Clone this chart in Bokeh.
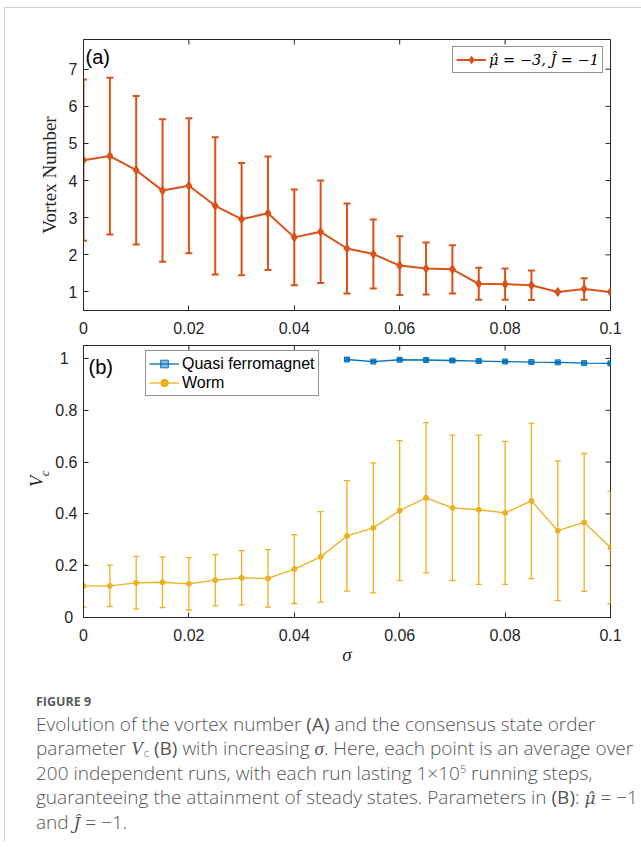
import math
from bokeh.plotting import figure
from bokeh.models import (ColumnDataSource, Whisker, TeeHead, Legend, LegendItem, Label,
                          LinearAxis, FixedTicker, Range1d, Div)
from bokeh.layouts import column
from bokeh.embed import file_html
from bokeh.resources import INLINE

# ---------------- data ----------------
sigma = [0.0, 0.005, 0.01, 0.015, 0.02, 0.025, 0.03, 0.035, 0.04, 0.045, 0.05,
         0.055, 0.06, 0.065, 0.07, 0.075, 0.08, 0.085, 0.09, 0.095, 0.1]

vortex_mean = [4.55, 4.66, 4.28, 3.73, 3.86, 3.32, 2.96, 3.12, 2.47, 2.62, 2.17,
               2.02, 1.71, 1.63, 1.61, 1.22, 1.21, 1.18, 1.00, 1.08, 1.00]
vortex_err = [2.17, 2.11, 2.00, 1.92, 1.82, 1.85, 1.51, 1.53, 1.29, 1.38, 1.21,
              0.93, 0.79, 0.70, 0.65, 0.43, 0.42, 0.40, 0.0, 0.29, 0.0]

worm_mean = [0.122, 0.122, 0.134, 0.136, 0.130, 0.144, 0.153, 0.151, 0.187, 0.234, 0.315,
             0.346, 0.413, 0.462, 0.423, 0.416, 0.404, 0.450, 0.335, 0.367, 0.270]
worm_err = [0.082, 0.080, 0.102, 0.098, 0.101, 0.099, 0.105, 0.111, 0.133, 0.175, 0.213,
            0.251, 0.270, 0.290, 0.281, 0.288, 0.276, 0.300, 0.270, 0.266, 0.217]

quasi_sigma = [0.05, 0.055, 0.06, 0.065, 0.07, 0.075, 0.08, 0.085, 0.09, 0.095, 0.1]
quasi_mean = [0.996, 0.988, 0.995, 0.994, 0.992, 0.990, 0.988, 0.986, 0.985, 0.982, 0.981]
quasi_err = [0.004, 0.004, 0.004, 0.004, 0.004, 0.004, 0.004, 0.004, 0.004, 0.004, 0.004]

x_ticks = [0, 0.02, 0.04, 0.06, 0.08, 0.1]
x_tick_labels = ["0", "0.02", "0.04", "0.06", "0.08", "0.1"]
v_ticks = [1, 2, 3, 4, 5, 6, 7]
vc_ticks = [0, 0.2, 0.4, 0.6, 0.8, 1.0]
# short labels are centred under the wider ones, as in the original
vc_tick_labels = ["0\u00a0", "0.2", "0.4", "0.6", "0.8", "1\u00a0\u00a0"]

ORANGE = "#D95319"
BLUE = "#0072BD"
YELLOW = "#EDB120"
AX = "#262626"
TICK_FONT = "Liberation Sans"
SERIF = "Liberation Serif"
MATH = "DejaVu Serif"


def style_axes(p, xt, xl, yt, yl):
    p.grid.visible = False
    p.outline_line_color = AX
    p.outline_line_width = 1
    p.outline_line_alpha = 1
    p.xaxis.ticker = FixedTicker(ticks=xt)
    p.xaxis.major_label_overrides = dict(zip(xt, xl))
    p.yaxis.ticker = FixedTicker(ticks=yt)
    if yl is not None:
        p.yaxis.major_label_overrides = dict(zip(yt, yl))
    for ax in p.xaxis + p.yaxis:
        ax.axis_line_color = AX
        ax.major_tick_line_color = AX
        ax.major_tick_in = 5
        ax.major_tick_out = 0
        ax.minor_tick_line_color = None
        ax.major_label_text_font = TICK_FONT
        ax.major_label_text_font_size = "16px"
        ax.major_label_text_color = AX
    p.xaxis.major_label_standoff = 11
    p.yaxis.major_label_standoff = 6
    # mirrored inward ticks on the right and top edges of the box
    xe = p.x_range.end
    ye = p.y_range.end
    p.ray(x=[xe] * len(yt), y=yt, length=5, length_units="screen", angle=math.pi,
          line_color=AX, line_width=1)
    p.ray(x=xt, y=[ye] * len(xt), length=5, length_units="screen", angle=-math.pi / 2,
          line_color=AX, line_width=1)


def style_legend(lg):
    lg.border_line_color = AX
    lg.border_line_width = 1
    lg.background_fill_alpha = 1
    lg.padding = 3
    lg.spacing = 0
    lg.label_standoff = 3
    lg.glyph_width = 30
    lg.glyph_height = 19
    lg.label_height = 19
    lg.label_text_font_size = "16px"
    lg.label_text_color = "#000000"
    lg.label_text_baseline = "middle"


# ---------------- panel (a) ----------------
p1 = figure(width=628, height=334, x_range=Range1d(0, 0.1), y_range=Range1d(0.5, 7.8),
            output_backend="svg", toolbar_location=None,
            min_border_left=77, min_border_right=23, min_border_top=31, min_border_bottom=32)
style_axes(p1, x_ticks, x_tick_labels, v_ticks, None)
p1.yaxis.axis_label = "Vortex Number"
p1.yaxis.axis_label_text_font = SERIF
p1.yaxis.axis_label_text_font_style = "normal"
p1.yaxis.axis_label_text_font_size = "19px"
p1.yaxis.axis_label_text_color = AX
p1.yaxis.axis_label_standoff = 6

src1 = ColumnDataSource(dict(x=sigma, y=vortex_mean,
                             upper=[m + e for m, e in zip(vortex_mean, vortex_err)],
                             lower=[m - e for m, e in zip(vortex_mean, vortex_err)]))
w1 = Whisker(source=src1, base="x", upper="upper", lower="lower",
             line_color=ORANGE, line_width=2,
             upper_head=TeeHead(size=7, line_color=ORANGE, line_width=2),
             lower_head=TeeHead(size=7, line_color=ORANGE, line_width=2))
p1.add_layout(w1)
l1 = p1.line("x", "y", source=src1, line_color=ORANGE, line_width=2)
s1 = p1.scatter("x", "y", source=src1, marker="diamond", size=9,
                fill_color=ORANGE, line_color=ORANGE)

lg1 = Legend(items=[LegendItem(label="μ̂ = −3, Ĵ = −1", renderers=[l1, s1])],
             location="top_right", margin=7)
style_legend(lg1)
lg1.label_text_font = MATH
lg1.label_text_font_style = "italic"
lg1.label_text_font_size = "14.5px"
p1.add_layout(lg1)

p1.add_layout(Label(x=0, y=7.8, x_offset=2, y_offset=-6, text="(a)",
                    text_font=TICK_FONT, text_font_size="20px", text_color="#000000",
                    text_baseline="top", text_align="left"))

# ---------------- panel (b) ----------------
p2 = figure(width=628, height=348, x_range=Range1d(0, 0.1), y_range=Range1d(0, 1.05),
            output_backend="svg", toolbar_location=None,
            min_border_left=78, min_border_right=22, min_border_top=3, min_border_bottom=73)
style_axes(p2, x_ticks, x_tick_labels, vc_ticks, vc_tick_labels)
p2.xaxis.axis_label = "σ"
p2.xaxis.axis_label_text_font = SERIF
p2.xaxis.axis_label_text_font_style = "italic"
p2.xaxis.axis_label_text_font_size = "19px"
p2.xaxis.axis_label_text_color = AX
p2.xaxis.axis_label_standoff = 0

# y label V_c: subscript "c" on the main axis, "V" on an outer tick-less axis
p2.yaxis.axis_label = "\u2003 c"
p2.yaxis.axis_label_text_font = SERIF
p2.yaxis.axis_label_text_font_style = "italic"
p2.yaxis.axis_label_text_font_size = "13px"
p2.yaxis.axis_label_text_color = AX
p2.yaxis.axis_label_standoff = 0
vax = LinearAxis(ticker=FixedTicker(ticks=[]), axis_line_color=None,
                 major_tick_line_color=None, minor_tick_line_color=None,
                 major_label_standoff=0, axis_label="V",
                 axis_label_text_font=SERIF, axis_label_text_font_style="italic",
                 axis_label_text_font_size="19px", axis_label_text_color=AX,
                 axis_label_standoff=-12)
p2.add_layout(vax, "left")

src_q = ColumnDataSource(dict(x=quasi_sigma, y=quasi_mean,
                              upper=[m + e for m, e in zip(quasi_mean, quasi_err)],
                              lower=[m - e for m, e in zip(quasi_mean, quasi_err)]))
src_w = ColumnDataSource(dict(x=sigma, y=worm_mean,
                              upper=[m + e for m, e in zip(worm_mean, worm_err)],
                              lower=[m - e for m, e in zip(worm_mean, worm_err)]))
for src, col in ((src_q, BLUE), (src_w, YELLOW)):
    p2.add_layout(Whisker(source=src, base="x", upper="upper", lower="lower",
                          line_color=col, line_width=1.3,
                          upper_head=TeeHead(size=6, line_color=col, line_width=1.3),
                          lower_head=TeeHead(size=6, line_color=col, line_width=1.3)))
lq = p2.line("x", "y", source=src_q, line_color=BLUE, line_width=1.3)
sq = p2.scatter("x", "y", source=src_q, marker="square", size=5,
                fill_color=BLUE, fill_alpha=0.45, line_color=BLUE)
lw = p2.line("x", "y", source=src_w, line_color=YELLOW, line_width=1.3)
sw = p2.scatter("x", "y", source=src_w, marker="circle", size=5,
                fill_color=YELLOW, line_color=YELLOW)

lg2 = Legend(items=[LegendItem(label="Quasi ferromagnet", renderers=[lq, sq]),
                    LegendItem(label="Worm", renderers=[lw, sw])],
             location=(62, 221))
style_legend(lg2)
lg2.label_text_font = TICK_FONT
p2.add_layout(lg2)

p2.add_layout(Label(x=0, y=1.05, x_offset=5, y_offset=-10, text="(b)",
                    text_font=TICK_FONT, text_font_size="20px", text_color="#000000",
                    text_baseline="top", text_align="left"))

# ---------------- caption ----------------
mi = 'font-family:\'Liberation Serif\',serif;font-style:italic;'
mh = 'font-family:\'DejaVu Serif\',serif;font-style:italic;font-size:17px;'
caption = (
    '<div style="padding-left:26px;padding-top:0px;font-family:\'Open Sans\',sans-serif;'
    'color:#555555;white-space:nowrap;">'
    '<div style="font-size:12.5px;line-height:14px;margin-bottom:3px;font-weight:bold;'
    'color:#5a5a5a;">FIGURE 9</div>'
    '<div style="font-size:19px;line-height:24px;font-weight:300;">'
    'Evolution of the vortex number <b>(A)</b> and the consensus state order<br>'
    'parameter <span style="' + mi + '">V</span>'
    '<span style="line-height:0;font-size:11px;vertical-align:-2px;margin-left:1px;">c</span> '
    '<b>(B)</b> with increasing <span style="' + mi + '">σ</span>. '
    'Here, each point is an average over<br>'
    '200 independent runs, with each run lasting 1×10'
    '<span style="line-height:0;font-size:11px;vertical-align:7px;">5</span>'
    ' running steps,<br>'
    'guaranteeing the attainment of steady states. Parameters in <b>(B)</b>: '
    '<span style="' + mh + '">μ̂</span> = −1<br>'
    'and <span style="' + mh + '">Ĵ</span> = −1.'
    '</div></div>'
)
div = Div(text=caption, width=628, height=141)

layout = column(p1, p2, div,
                styles={"border-left": "1px solid #d0d0d0", "border-top": "1px solid #d0d0d0",
                        "margin-left": "4px", "margin-top": "7px"})
open("out.html", "w").write(file_html(layout, INLINE))
